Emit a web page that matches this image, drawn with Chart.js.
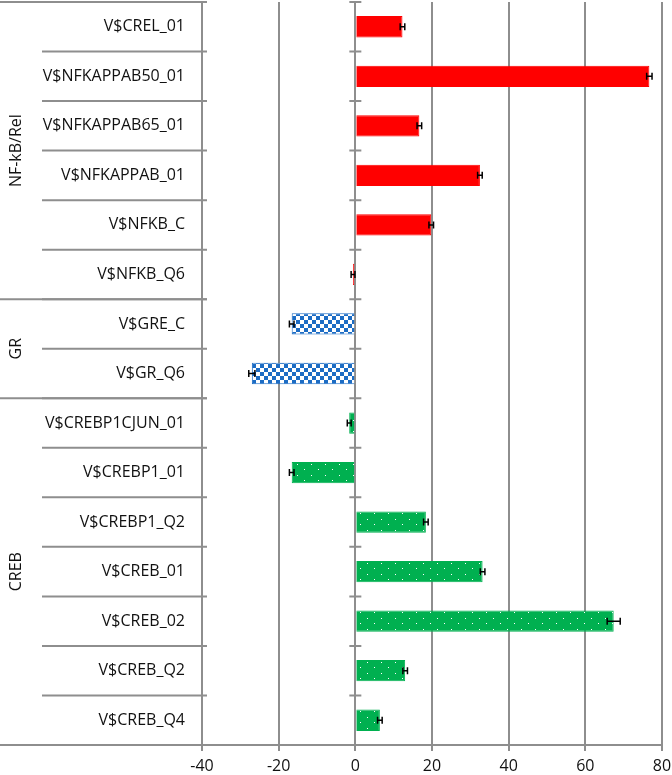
<!DOCTYPE html>
<html lang="en">
<head>
    <meta charset="UTF-8">
    <title>Motif enrichment</title>
    <script src="https://cdn.jsdelivr.net/npm/chart.js@4.4.0/dist/chart.umd.min.js"></script>
    <style>
        body { margin: 0; background: #fff; }
        #wrap { width: 672px; height: 775px; }
    </style>
</head>
<body>
    <div id="wrap"><canvas id="myChart"></canvas></div>

    <script>
        // data
        const labels = ['V$CREL_01', 'V$NFKAPPAB50_01', 'V$NFKAPPAB65_01', 'V$NFKAPPAB_01', 'V$NFKB_C', 'V$NFKB_Q6',
            'V$GRE_C', 'V$GR_Q6',
            'V$CREBP1CJUN_01', 'V$CREBP1_01', 'V$CREBP1_Q2', 'V$CREB_01', 'V$CREB_02', 'V$CREB_Q2', 'V$CREB_Q4']
        const values = [12.3, 76.7, 16.7, 32.5, 19.8, -0.6,
            -16.6, -27.0,
            -1.6, -16.6, 18.4, 33.2, 67.4, 13.0, 6.4]
        const errors = [0.6, 0.7, 0.6, 0.6, 0.6, 0.5,
            0.6, 0.8,
            0.5, 0.6, 0.6, 0.6, 1.7, 0.6, 0.6]
        const groupNames = ['NF-kB/Rel', 'GR', 'CREB']
        const groupSizes = [6, 2, 7]
        const xTicks = [-40, -20, 0, 20, 40, 60, 80]

        const FONT = '"Open Sans", sans-serif'
        const GRID = '#8e8e8e'

        // fill patterns
        function checkerPattern() {
            const c = document.createElement('canvas')
            c.width = 8; c.height = 8
            const g = c.getContext('2d')
            g.fillStyle = '#ffffff'
            g.fillRect(0, 0, 8, 8)
            g.fillStyle = '#1c6cc4'
            g.fillRect(0, 0, 4, 4)
            g.fillRect(4, 4, 4, 4)
            return g.createPattern(c, 'repeat')
        }
        function dotPattern() {
            const c = document.createElement('canvas')
            c.width = 14; c.height = 11
            const g = c.getContext('2d')
            g.fillStyle = '#00b050'
            g.fillRect(0, 0, 14, 11)
            g.fillStyle = '#ffffff'
            g.fillRect(3, 2, 1, 1)
            g.fillRect(10, 7, 1, 1)
            return g.createPattern(c, 'repeat')
        }

        const fills = [{ bg: '#ff0000', border: '#ff0000' }, { bg: checkerPattern(), border: '#1c6cc4' }, { bg: dotPattern(), border: '#00b050' }]
        const barBg = [], barBorder = []
        groupSizes.forEach((n, g) => {
            for (let k = 0; k < n; k++) {
                barBg.push(fills[g].bg)
                barBorder.push(fills[g].border)
            }
        })

        // error whiskers
        const errorBars = {
            id: 'errorBars',
            afterDatasetsDraw(chart) {
                const ctx = chart.ctx
                const xs = chart.scales.x
                const meta = chart.getDatasetMeta(0)
                ctx.save()
                ctx.strokeStyle = '#000'
                ctx.lineWidth = 1.5
                meta.data.forEach((bar, i) => {
                    const x1 = xs.getPixelForValue(values[i] - errors[i])
                    const x2 = xs.getPixelForValue(values[i] + errors[i])
                    const y = bar.y
                    ctx.beginPath()
                    ctx.moveTo(x1, y); ctx.lineTo(x2, y)
                    ctx.moveTo(x1, y - 3.5); ctx.lineTo(x1, y + 3.5)
                    ctx.moveTo(x2, y - 3.5); ctx.lineTo(x2, y + 3.5)
                    ctx.stroke()
                })
                ctx.restore()
            }
        }

        // left label table, group labels and the zero axis ticks
        const sideTable = {
            id: 'sideTable',
            afterDraw(chart) {
                const ctx = chart.ctx
                const ys = chart.scales.y
                const xs = chart.scales.x
                const area = chart.chartArea
                const n = labels.length
                const step = (ys.bottom - ys.top) / n
                const edge = i => ys.top + i * step
                const x0 = xs.getPixelForValue(0)
                const right = area.left + 5

                ctx.save()
                ctx.strokeStyle = GRID
                ctx.lineWidth = 2

                // category separators + zero axis ticks
                for (let i = 1; i < n; i++) {
                    ctx.beginPath()
                    ctx.moveTo(42, edge(i)); ctx.lineTo(right, edge(i))
                    ctx.moveTo(x0 - 6, edge(i)); ctx.lineTo(x0 + 6, edge(i))
                    ctx.stroke()
                }
                ctx.beginPath()
                ctx.moveTo(x0 - 6, edge(0)); ctx.lineTo(x0 + 6, edge(0))
                ctx.stroke()

                // group separators
                let start = 0
                groupSizes.forEach((size, g) => {
                    ctx.beginPath()
                    ctx.moveTo(0, edge(start)); ctx.lineTo(right, edge(start))
                    ctx.stroke()
                    const mid = (edge(start) + edge(start + size)) / 2
                    ctx.save()
                    ctx.translate(16, mid)
                    ctx.rotate(-Math.PI / 2)
                    ctx.fillStyle = '#111'
                    ctx.font = '16px ' + FONT
                    ctx.textAlign = 'center'
                    ctx.textBaseline = 'middle'
                    ctx.fillText(groupNames[g], 0, 0)
                    ctx.restore()
                    start += size
                })
                ctx.beginPath()
                ctx.moveTo(0, edge(n)); ctx.lineTo(right, edge(n))
                ctx.stroke()

                // category labels
                ctx.fillStyle = '#111'
                ctx.font = '16px ' + FONT
                ctx.textAlign = 'right'
                ctx.textBaseline = 'middle'
                labels.forEach((lab, i) => {
                    ctx.fillText(lab, 185, ys.getPixelForValue(i))
                })
                ctx.restore()
            }
        }

        const ctx = document.getElementById('myChart').getContext('2d')
        const myChart = new Chart(ctx, {
            type: 'bar',
            data: {
                labels: labels,
                datasets: [{
                    data: values,
                    backgroundColor: barBg,
                    borderColor: barBorder,
                    borderWidth: 1,
                    categoryPercentage: 1,
                    barPercentage: 0.43
                }]
            },
            options: {
                indexAxis: 'y',
                responsive: true,
                maintainAspectRatio: false,
                animation: false,
                layout: { padding: { left: 202, right: 0, top: 2 } },
                plugins: {
                    legend: { display: false },
                    tooltip: { enabled: false }
                },
                scales: {
                    x: {
                        min: -40,
                        max: 80,
                        afterBuildTicks: axis => { axis.ticks = xTicks.map(v => ({ value: v })) },
                        afterFit: axis => { axis.height = 30; axis.paddingRight = 10 },
                        grid: { color: GRID, lineWidth: 2, tickLength: 6 },
                        border: { color: GRID, width: 2 },
                        ticks: {
                            color: '#111',
                            padding: 6,
                            font: { family: FONT, size: 16 }
                        }
                    },
                    y: {
                        display: false
                    }
                }
            },
            plugins: [errorBars, sideTable]
        })
    </script>
</body>
</html>
